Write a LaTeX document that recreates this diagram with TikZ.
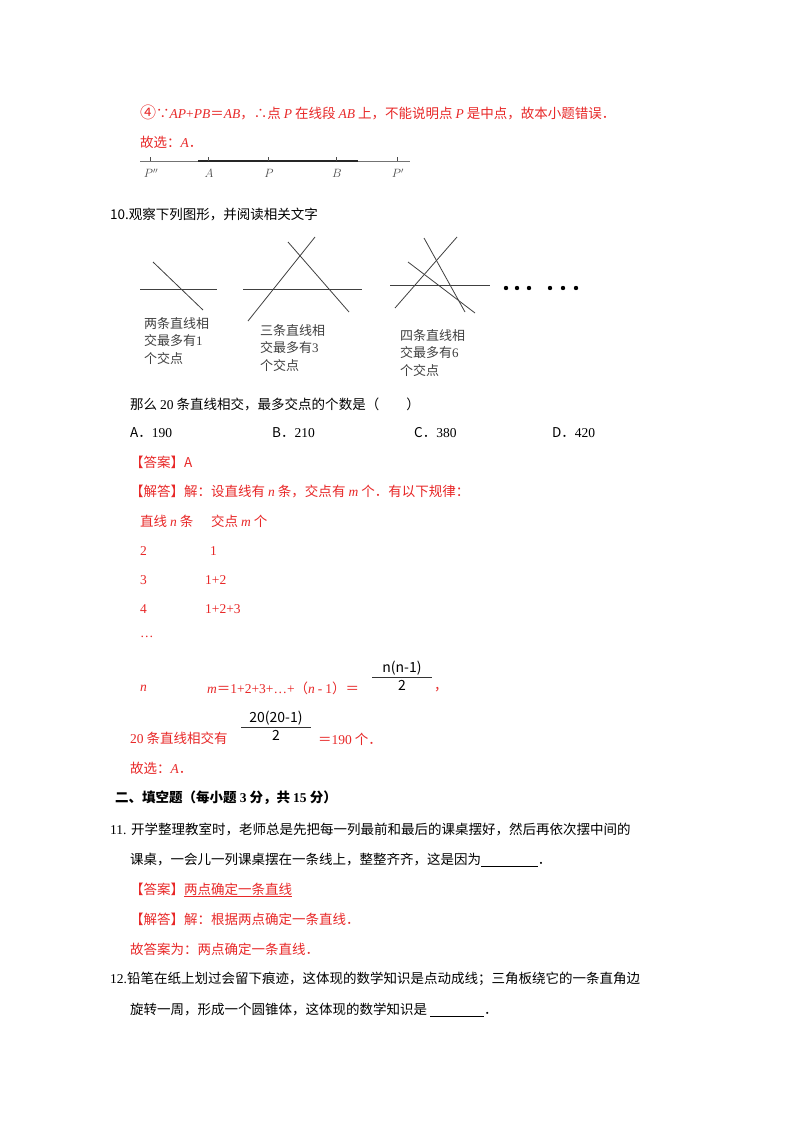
\documentclass[tikz,border=0pt]{standalone}
\usepackage{fontspec}
\setmainfont{Noto Sans CJK SC}
\newfontfamily\lat{Liberation Serif}
\newcommand{\vi}[1]{{\lat\itshape #1}}
\newcommand{\vr}[1]{{\lat #1}}
\definecolor{ansred}{RGB}{232,40,40}
\begin{document}
\begin{tikzpicture}[x=1pt,y=-1pt,
  tx/.style={anchor=west,inner sep=0pt,font=\fontsize{13.5}{15}\selectfont},
  rt/.style={tx,text=ansred},
  fig/.style={anchor=west,inner sep=0pt,font=\fontsize{13}{17.5}\selectfont,align=left,text=black!75},
  fr/.style={inner sep=1pt,font=\fontsize{14}{15}\selectfont},
  ln/.style={line width=0.8pt,black!75}]
\useasboundingbox[fill=white] (0,0) rectangle (800,1132);
% top
\node[rt] (r1) at (140,112) {{\fontsize{16}{16}\selectfont ④}∵\vi{AP}\vr{+}\vi{PB}＝\vi{AB}，∴点 \vi{P} 在线段 \vi{AB} 上，不能说明点 \vi{P} 是中点，故本小题错误．};
\node[rt] (r2) at (140,142) {故选：\vi{A}．};
\coordinate (nl0) at (140,161); \coordinate (nl1) at (410,161);
\coordinate (th0) at (198,161); \coordinate (th1) at (358,161);
\draw[black!55,line width=0.8pt] (nl0) -- (nl1);
\draw[black!85,line width=1.3pt] (th0) -- (th1);
\foreach \x/\l/\n in {150/P''/pa,208/A/pb,268/P/pc,336/B/pd,397/P'/pe}{
  \draw[black!70] (\x,157) -- (\x,161);
  \node[inner sep=0pt,font=\lat\itshape\fontsize{12}{13}\selectfont,text=black!70] (\n) at (\x+1,173) {$\l$};}
\node[tx] (q10) at (110,215) {10.观察下列图形，并阅读相关文字};
% figure 1
\coordinate (a1) at (140,289); \coordinate (a2) at (217,289);
\coordinate (a3) at (153,262); \coordinate (a4) at (203,310);
\draw[ln] (a1)--(a2); \draw[ln] (a3)--(a4);
\node[fig] (f1) at (144,341) {两条直线相\\交最多有\vr{1}\\个交点};
% figure 2
\coordinate (b1) at (243,289); \coordinate (b2) at (362,289);
\coordinate (b3) at (248,321); \coordinate (b4) at (315,237);
\coordinate (b5) at (288,242); \coordinate (b6) at (349,312);
\draw[ln] (b1)--(b2); \draw[ln] (b3)--(b4); \draw[ln] (b5)--(b6);
\node[fig] (f2) at (260,348) {三条直线相\\交最多有\vr{3}\\个交点};
% figure 3
\coordinate (c1) at (390,285); \coordinate (c2) at (490,285);
\coordinate (c3) at (395,308); \coordinate (c4) at (457,237);
\coordinate (c5) at (408,262); \coordinate (c6) at (475,313);
\coordinate (c7) at (424,238); \coordinate (c8) at (465,312);
\draw[ln] (c1)--(c2); \draw[ln] (c3)--(c4); \draw[ln] (c5)--(c6); \draw[ln] (c7)--(c8);
\node[fig] (f3) at (400,353) {四条直线相\\交最多有\vr{6}\\个交点};
\foreach \x in {506,517,529,550,563,576}{\fill (\x,288) circle (2.2);}
% question
\node[tx] (q) at (130,404) {那么 \vr{20} 条直线相交，最多交点的个数是（\hspace{2em}）};
\node[tx] (oA) at (130,433) {A．\vr{190}};
\node[tx] (oB) at (272,433) {B．\vr{210}};
\node[tx] (oC) at (414,433) {C．\vr{380}};
\node[tx] (oD) at (552,433) {D．\vr{420}};
\node[rt] (ans) at (130,462) {【答案】A};
\node[rt] (sol) at (130,491) {【解答】解：设直线有 \vi{n} 条，交点有 \vi{m} 个．有以下规律：};
\node[rt] (h) at (140,521) {直线 \vi{n} 条\hspace{1.3em}交点 \vi{m} 个};
\node[rt] (r21) at (140,551) {\vr{2}}; \node[rt] (r22) at (210,551) {\vr{1}};
\node[rt] (r31) at (140,580) {\vr{3}}; \node[rt] (r32) at (205,580) {\vr{1+2}};
\node[rt] (r41) at (140,609) {\vr{4}}; \node[rt] (r42) at (205,609) {\vr{1+2+3}};
\node[rt] (dd) at (140,637) {\vr{…}};
\node[rt] (nn) at (140,688) {\vi{n}};
\node[rt] (mm) at (207,688) {\vi{m}＝\vr{1+2+3+}\vr{…+}（\vi{n} \vr{-} \vr{1}）＝};
\node[fr,anchor=south] (fn1) at (402,676) {n(n-1)};
\draw[black!80,line width=0.6pt] (372,677) -- (432,677);
\node[fr,anchor=north] (fd1) at (402,679) {2};
\node[rt] (cm) at (434,690) {，};
\node[rt] (t20) at (130,738) {\vr{20} 条直线相交有};
\node[fr,anchor=south] (fn2) at (276,726) {20(20-1)};
\draw[black!80,line width=0.6pt] (241,727) -- (311,727);
\node[fr,anchor=north] (fd2) at (276,729) {2};
\node[rt] (eq) at (318,739) {＝\vr{190} 个．};
\node[rt] (gx) at (130,768) {故选：\vi{A}．};
\node[tx,font=\bfseries\fontsize{13.5}{15}\selectfont] (sec) at (115,798) {二、填空题（每小题 \vr{3} 分，共 \vr{15} 分）};
\node[tx] (q11) at (110,829) {\vr{11.}\,\,开学整理教室时，老师总是先把每一列最前和最后的课桌摆好，然后再依次摆中间的};
\node[tx] (q11b) at (130,860) {课桌，一会儿一列课桌摆在一条线上，整整齐齐，这是因为\underline{\hspace{4.2em}}．};
\node[rt] (a11) at (130,890) {【答案】\underline{两点确定一条直线}};
\node[rt] (s11) at (130,919) {【解答】解：根据两点确定一条直线．};
\node[rt] (g11) at (130,949) {故答案为：两点确定一条直线．};
\node[tx] (q12) at (110,979) {\vr{12.}铅笔在纸上划过会留下痕迹，这体现的数学知识是点动成线；三角板绕它的一条直角边};
\node[tx] (q12b) at (130,1010) {旋转一周，形成一个圆锥体，这体现的数学知识是 \underline{\hspace{4em}}．};
\end{tikzpicture}
\end{document}
